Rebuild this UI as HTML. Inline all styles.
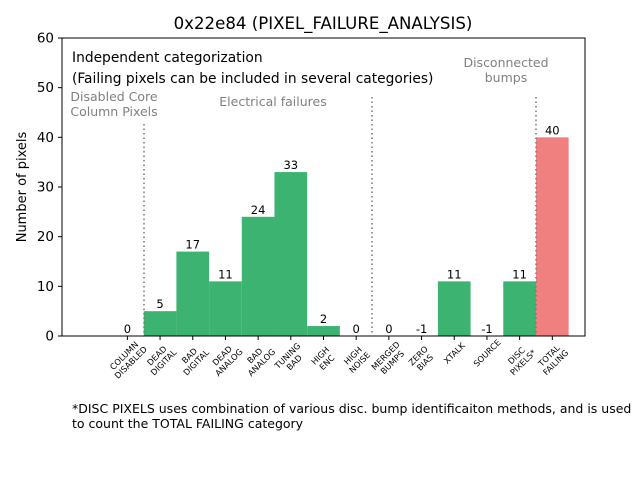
<!DOCTYPE html>
<html><head><meta charset="utf-8"><style>
body{margin:0;background:#fff}
svg{display:block;font-family:"DejaVu Sans","Liberation Sans",sans-serif}
</style></head><body>
<svg id="chart" width="640" height="480" viewBox="0 0 640 480">
<rect width="640" height="480" fill="#fff"/>
<text x="323" y="29" font-size="16.6" text-anchor="middle">0x22e84 (PIXEL_FAILURE_ANALYSIS)</text>
<g id="bars"></g>
<g id="vals"></g>
<line x1="144" y1="124" x2="144" y2="336" stroke="#777" stroke-width="1.5" stroke-dasharray="1.5,3"/>
<line x1="372" y1="97" x2="372" y2="336" stroke="#777" stroke-width="1.5" stroke-dasharray="1.5,3"/>
<line x1="536" y1="97" x2="536" y2="336" stroke="#777" stroke-width="1.5" stroke-dasharray="1.5,3"/>
<rect x="62" y="38" width="523" height="298" fill="none" stroke="#000" stroke-width="1"/>
<g id="yticks"></g>
<g id="xticks"></g>
<text transform="translate(26,187) rotate(-90)" font-size="13" text-anchor="middle">Number of pixels</text>
<text x="72" y="62" font-size="13.8">Independent categorization</text>
<text x="72" y="83" font-size="13.8">(Failing pixels can be included in several categories)</text>
<text x="114" y="101" font-size="12.5" fill="#808080" text-anchor="middle"><tspan x="114">Disabled Core</tspan><tspan x="114" dy="15">Column Pixels</tspan></text>
<text x="273" y="106" font-size="12.5" fill="#808080" text-anchor="middle">Electrical failures</text>
<text x="506" y="67" font-size="12.5" fill="#808080" text-anchor="middle"><tspan x="506">Disconnected</tspan><tspan x="506" dy="15">bumps</tspan></text>
<text x="72" y="413" font-size="12.5"><tspan x="72">*DISC PIXELS uses combination of various disc. bump identificaiton methods, and is used</tspan><tspan x="72" dy="15">to count the TOTAL FAILING category</tspan></text>
</svg>
<script>
const categories = [["COLUMN","DISABLED"],["DEAD","DIGITAL"],["BAD","DIGITAL"],["DEAD","ANALOG"],["BAD","ANALOG"],["TUNING","BAD"],["HIGH","ENC"],["HIGH","NOISE"],["MERGED","BUMPS"],["ZERO","BIAS"],["XTALK"],["SOURCE"],["DISC","PIXELS*"],["TOTAL","FAILING"]];
const values = [0,5,17,11,24,33,2,0,0,-1,11,-1,11,40];
const yTicks = [0,10,20,30,40,50,60];
const NS = "http://www.w3.org/2000/svg";
const X0=62, X1=585, Y0=336, Y1=38;
function xs(i){ return X0 + (i+2)*(X1-X0)/16; }
function ys(v){ return Y0 - v*(Y0-Y1)/60; }
const bw = (X1-X0)/16;
function mk(tag, attrs, parent){ const e=document.createElementNS(NS,tag); for(const k in attrs) e.setAttribute(k,attrs[k]); parent.appendChild(e); return e; }
const bars=document.getElementById('bars'), vals=document.getElementById('vals');
values.forEach((v,i)=>{
  const top = ys(Math.max(v,0)), bot = ys(0);
  const r = mk('rect',{x:xs(i)-bw/2,y:top,width:bw,height:Math.max(bot-top,0),fill:i===values.length-1?'#f08080':'#3cb371'},bars);
  
  
  const t = mk('text',{x:xs(i),y:ys(Math.max(v,0))-3,'font-size':11.5,'text-anchor':'middle'},vals);
  t.textContent = v;
  
  
});
const yt=document.getElementById('yticks');
yTicks.forEach(v=>{
  const l=mk('line',{x1:X0-4,x2:X0,y1:ys(v),y2:ys(v),stroke:'#000'},yt);
  
  
  const t=mk('text',{x:X0-8,y:ys(v)+4.5,'font-size':13.5,'text-anchor':'end'},yt);
  t.textContent=v;
  
  
});
const xt=document.getElementById('xticks');
categories.forEach((c,i)=>{
  const l=mk('line',{x1:xs(i),x2:xs(i),y1:Y0,y2:Y0+4,stroke:'#000'},xt);
  
  
  const g=mk('g',{transform:'translate('+xs(i)+','+(c.length>1?359:353)+') rotate(-45)'},xt);
  const t=mk('text',{'font-size':8.3,'text-anchor':'middle'},g);
  c.forEach((ln,j)=>{ const s=mk('tspan',{x:0,y:(j-(c.length-1)/2)*9.5+3},t); s.textContent=ln; });
  
  
});
</script>
</body></html>
